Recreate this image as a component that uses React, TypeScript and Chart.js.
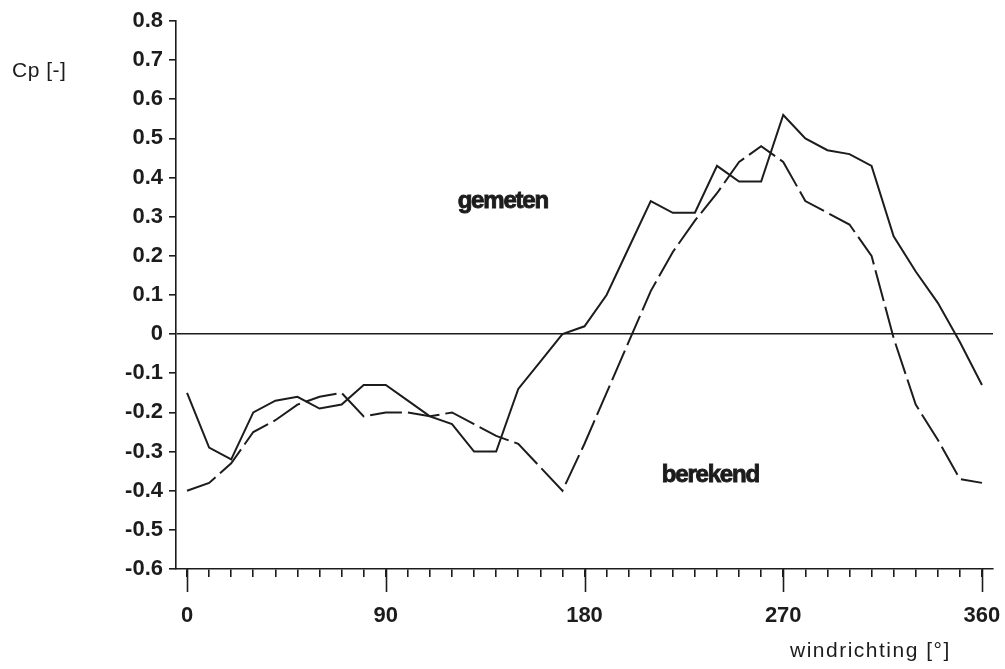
import React, { useEffect, useRef } from "react";
import { Chart, registerables } from "chart.js";

Chart.register(...registerables);

// ---- data ----
const angles = [0, 10, 20, 30, 40, 50, 60, 70, 80, 90, 100, 110, 120, 130, 140, 150, 160, 170, 180, 190, 200, 210, 220, 230, 240, 250, 260, 270, 280, 290, 300, 310, 320, 330, 340, 350, 360];

const gemeten = [-0.15, -0.29, -0.32, -0.2, -0.17, -0.16, -0.19, -0.18, -0.13, -0.13, -0.17, -0.21, -0.23, -0.3, -0.3, -0.14, -0.07, 0.0, 0.02, 0.1, 0.22, 0.34, 0.31, 0.31, 0.43, 0.39, 0.39, 0.56, 0.5, 0.47, 0.46, 0.43, 0.25, 0.16, 0.08, -0.02, -0.13];

const berekend = [-0.4, -0.38, -0.33, -0.25, -0.22, -0.18, -0.16, -0.15, -0.21, -0.2, -0.2, -0.21, -0.2, -0.23, -0.26, -0.28, -0.34, -0.4, -0.28, -0.15, -0.02, 0.11, 0.21, 0.29, 0.36, 0.44, 0.48, 0.44, 0.34, 0.31, 0.28, 0.2, -0.01, -0.18, -0.27, -0.37, -0.38];

const yTickValues = [-0.6, -0.5, -0.4, -0.3, -0.2, -0.1, 0, 0.1, 0.2, 0.3, 0.4, 0.5, 0.6, 0.7, 0.8];
const xMajorTicks = [0, 90, 180, 270, 360];

const seriesNames = ["gemeten", "berekend"];
const seriesNameAngle = [143, 237];
const seriesNameValue = [0.338, -0.36];

const yTitle = "Cp [-]";
const xTitle = "windrichting [°]";

const INK = "#1c1c1c";
const FONT = "'Liberation Sans', Arial, Helvetica, sans-serif";

const overlayPlugin = {
  id: "overlay",
  afterDraw(chart: any) {
    const ctx = chart.ctx as CanvasRenderingContext2D;
    const xs = chart.scales.x;
    const ys = chart.scales.y;
    const bottom = chart.chartArea.bottom;
    ctx.save();
    // long major ticks on x axis
    ctx.strokeStyle = INK;
    ctx.lineWidth = 1.6;
    for (const v of xMajorTicks) {
      const px = Math.round(xs.getPixelForValue(v)) + 0.5;
      ctx.beginPath();
      ctx.moveTo(px, bottom);
      ctx.lineTo(px, bottom + 23);
      ctx.stroke();
    }
    // series labels
    ctx.fillStyle = INK;
    ctx.strokeStyle = INK;
    ctx.lineWidth = 0.9;
    ctx.font = `bold 24px ${FONT}`;
    (ctx as any).letterSpacing = "-1.2px";
    ctx.textAlign = "center";
    ctx.textBaseline = "middle";
    seriesNames.forEach((name, i) => {
      const px = xs.getPixelForValue(seriesNameAngle[i]);
      const py = ys.getPixelForValue(seriesNameValue[i]);
      ctx.fillText(name, px, py);
      ctx.strokeText(name, px, py);
    });
    // axis titles
    (ctx as any).letterSpacing = "0.5px";
    ctx.textAlign = "left";
    ctx.font = `21px ${FONT}`;
    ctx.fillText(yTitle, 12, 71);
    (ctx as any).letterSpacing = "1.5px";
    ctx.font = `21px ${FONT}`;
    ctx.fillText(xTitle, 790, 651);
    ctx.restore();
  },
};

export default function App() {
  const canvasRef = useRef<HTMLCanvasElement | null>(null);

  useEffect(() => {
    if (!canvasRef.current) return;
    const chart = new Chart(canvasRef.current, {
      type: "line",
      data: {
        datasets: [
          {
            label: "gemeten",
            data: angles.map((a, i) => ({ x: a, y: gemeten[i] })),
            borderColor: INK,
            borderWidth: 2,
            pointRadius: 0,
            tension: 0,
            fill: false,
          },
          {
            label: "berekend",
            data: angles.map((a, i) => ({ x: a, y: berekend[i] })),
            borderColor: INK,
            borderWidth: 2,
            borderDash: [32, 6],
            pointRadius: 0,
            tension: 0,
            fill: false,
          },
        ],
      },
      options: {
        animation: false,
        responsive: false,
        maintainAspectRatio: false,
        layout: { padding: { left: 0, top: 21, right: 12, bottom: 0 } },
        plugins: {
          legend: { display: false },
          tooltip: { enabled: false },
        },
        scales: {
          x: {
            type: "linear",
            min: -5,
            max: 365,
            afterBuildTicks: (s: any) => {
              s.ticks = angles.map((v) => ({ value: v }));
            },
            afterFit: (s: any) => {
              s.height = 100;
              s.paddingLeft = 0;
              s.paddingRight = 0;
            },
            ticks: {
              autoSkip: false,
              maxRotation: 0,
              padding: 26,
              color: INK,
              font: { family: FONT, size: 22, weight: "bold" },
              callback: (v: any) => (xMajorTicks.includes(Number(v)) ? String(v) : ""),
            },
            grid: {
              drawOnChartArea: false,
              tickLength: 8,
              color: INK,
              lineWidth: 1.6,
            },
            border: { color: INK, width: 1.6 },
          },
          y: {
            type: "linear",
            min: -0.6,
            max: 0.8,
            afterBuildTicks: (s: any) => {
              s.ticks = yTickValues.map((v) => ({ value: v }));
            },
            afterFit: (s: any) => {
              s.width = 176;
              s.paddingTop = 0;
              s.paddingBottom = 0;
            },
            ticks: {
              padding: 6,
              color: INK,
              font: { family: FONT, size: 22, weight: "bold" },
              callback: (v: any) => (Math.abs(Number(v)) < 1e-9 ? "0" : Number(v).toFixed(1)),
            },
            grid: {
              drawOnChartArea: true,
              tickLength: 7,
              lineWidth: 1.6,
              color: (c: any) => (c.tick && Math.abs(c.tick.value) < 1e-9 ? INK : "rgba(0,0,0,0)"),
              tickColor: INK,
            },
            border: { color: INK, width: 1.6 },
          },
        },
      },
      plugins: [overlayPlugin],
    } as any);
    return () => chart.destroy();
  }, []);

  return (
    <div style={{ position: "fixed", left: 0, top: 0, width: 1005, height: 669, background: "#fff" }}>
      <canvas ref={canvasRef} width={1005} height={669} style={{ display: "block" }} />
    </div>
  );
}
